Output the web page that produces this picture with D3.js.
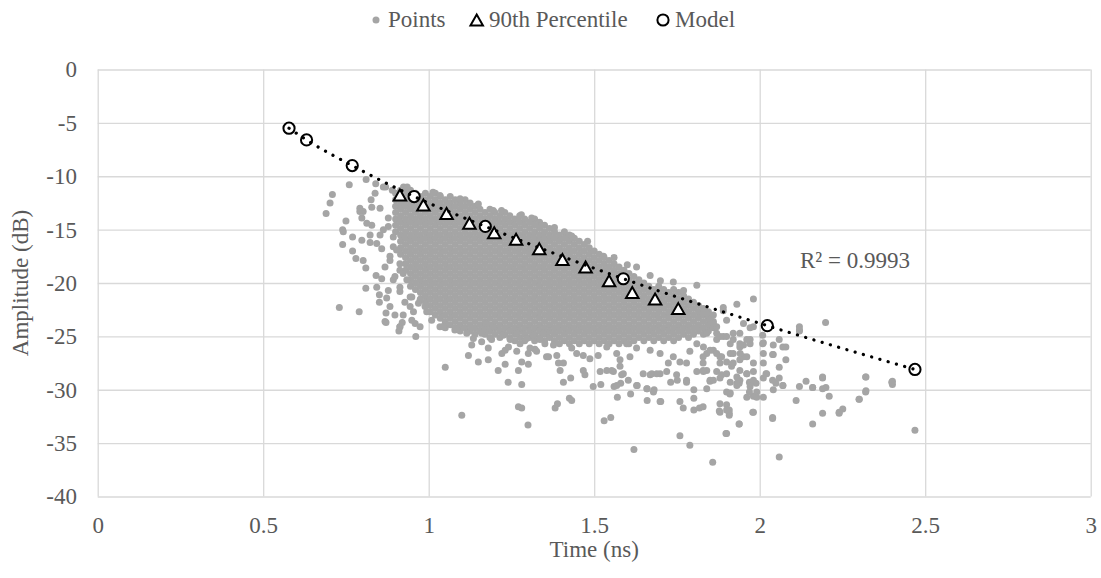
<!DOCTYPE html>
<html>
<head>
<meta charset="utf-8">
<script src="https://cdn.jsdelivr.net/npm/d3@7"></script>
<style>
  body { margin: 0; background: #ffffff; }
</style>
</head>
<body>
<svg id="decay-plot" width="1101" height="578"></svg>
<script>
// ---- data ----
const xTicks = [0, 0.5, 1, 1.5, 2, 2.5, 3];
const yTicks = [0, -5, -10, -15, -20, -25, -30, -35, -40];
const xTitle = "Time (ns)";
const yTitle = "Amplitude (dB)";
const legendLabels = ["Points", "90th Percentile", "Model"];
const rSquaredText = "R² = 0.9993";

// 90th percentile of amplitude per time bin
const percentileTime = [0.913, 0.984, 1.054, 1.123, 1.198, 1.264, 1.334, 1.404, 1.474, 1.545, 1.615, 1.684, 1.754];
const percentileAmp  = [-11.75, -12.7, -13.5, -14.4, -15.3, -15.9, -16.8, -17.8, -18.5, -19.8, -20.9, -21.5, -22.4];

// model evaluated at sample times
const modelTime = [0.578, 0.631, 0.769, 0.956, 1.171, 1.588, 2.023, 2.469];
const modelAmp  = [-5.5, -6.6, -9.0, -11.9, -14.7, -19.6, -24.0, -28.1];

// dense core of measurements: [time, [amplitudes...]]
const coreColumns = [
  [0.900, [-11.6,-12.2,-12.8,-13.4,-14.0,-14.6,-15.2]],
  [0.915, [-11.3,-11.9,-12.5,-13.1,-13.7,-14.3,-14.9,-15.5,-16.1,-16.7,-17.3]],
  [0.930, [-11.6,-12.2,-12.8,-13.4,-14.0,-14.6,-15.2,-15.8,-16.4,-17.0,-17.6,-18.2,-18.8]],
  [0.945, [-11.3,-11.9,-12.5,-13.1,-13.7,-14.3,-14.9,-15.5,-16.1,-16.7,-17.3,-17.9,-18.5,-19.1,-19.7,-20.3]],
  [0.960, [-11.6,-12.2,-12.8,-13.4,-14.0,-14.6,-15.2,-15.8,-16.4,-17.0,-17.6,-18.2,-18.8,-19.4,-20.0,-20.6]],
  [0.975, [-11.9,-12.5,-13.1,-13.7,-14.3,-14.9,-15.5,-16.1,-16.7,-17.3,-17.9,-18.5,-19.1,-19.7,-20.3,-20.9,-21.5]],
  [0.990, [-11.6,-12.2,-12.8,-13.4,-14.0,-14.6,-15.2,-15.8,-16.4,-17.0,-17.6,-18.2,-18.8,-19.4,-20.0,-20.6,-21.2,-21.8]],
  [1.005, [-11.9,-12.5,-13.1,-13.7,-14.3,-14.9,-15.5,-16.1,-16.7,-17.3,-17.9,-18.5,-19.1,-19.7,-20.3,-20.9,-21.5,-22.1,-22.7]],
  [1.020, [-11.6,-12.2,-12.8,-13.4,-14.0,-14.6,-15.2,-15.8,-16.4,-17.0,-17.6,-18.2,-18.8,-19.4,-20.0,-20.6,-21.2,-21.8,-22.4,-23.0]],
  [1.035, [-11.9,-12.5,-13.1,-13.7,-14.3,-14.9,-15.5,-16.1,-16.7,-17.3,-17.9,-18.5,-19.1,-19.7,-20.3,-20.9,-21.5,-22.1,-22.7,-23.3]],
  [1.050, [-12.2,-12.8,-13.4,-14.0,-14.6,-15.2,-15.8,-16.4,-17.0,-17.6,-18.2,-18.8,-19.4,-20.0,-20.6,-21.2,-21.8,-22.4,-23.0,-23.6,-24.2]],
  [1.065, [-11.9,-12.5,-13.1,-13.7,-14.3,-14.9,-15.5,-16.1,-16.7,-17.3,-17.9,-18.5,-19.1,-19.7,-20.3,-20.9,-21.5,-22.1,-22.7,-23.3,-23.9]],
  [1.080, [-12.2,-12.8,-13.4,-14.0,-14.6,-15.2,-15.8,-16.4,-17.0,-17.6,-18.2,-18.8,-19.4,-20.0,-20.6,-21.2,-21.8,-22.4,-23.0,-23.6,-24.2]],
  [1.095, [-12.5,-13.1,-13.7,-14.3,-14.9,-15.5,-16.1,-16.7,-17.3,-17.9,-18.5,-19.1,-19.7,-20.3,-20.9,-21.5,-22.1,-22.7,-23.3,-23.9,-24.5]],
  [1.110, [-12.2,-12.8,-13.4,-14.0,-14.6,-15.2,-15.8,-16.4,-17.0,-17.6,-18.2,-18.8,-19.4,-20.0,-20.6,-21.2,-21.8,-22.4,-23.0,-23.6,-24.2]],
  [1.125, [-12.5,-13.1,-13.7,-14.3,-14.9,-15.5,-16.1,-16.7,-17.3,-17.9,-18.5,-19.1,-19.7,-20.3,-20.9,-21.5,-22.1,-22.7,-23.3,-23.9,-24.5]],
  [1.140, [-12.8,-13.4,-14.0,-14.6,-15.2,-15.8,-16.4,-17.0,-17.6,-18.2,-18.8,-19.4,-20.0,-20.6,-21.2,-21.8,-22.4,-23.0,-23.6,-24.2,-24.8]],
  [1.155, [-13.1,-13.7,-14.3,-14.9,-15.5,-16.1,-16.7,-17.3,-17.9,-18.5,-19.1,-19.7,-20.3,-20.9,-21.5,-22.1,-22.7,-23.3,-23.9,-24.5]],
  [1.170, [-13.4,-14.0,-14.6,-15.2,-15.8,-16.4,-17.0,-17.6,-18.2,-18.8,-19.4,-20.0,-20.6,-21.2,-21.8,-22.4,-23.0,-23.6,-24.2,-24.8]],
  [1.185, [-13.1,-13.7,-14.3,-14.9,-15.5,-16.1,-16.7,-17.3,-17.9,-18.5,-19.1,-19.7,-20.3,-20.9,-21.5,-22.1,-22.7,-23.3,-23.9,-24.5,-25.1]],
  [1.200, [-13.4,-14.0,-14.6,-15.2,-15.8,-16.4,-17.0,-17.6,-18.2,-18.8,-19.4,-20.0,-20.6,-21.2,-21.8,-22.4,-23.0,-23.6,-24.2,-24.8]],
  [1.215, [-13.7,-14.3,-14.9,-15.5,-16.1,-16.7,-17.3,-17.9,-18.5,-19.1,-19.7,-20.3,-20.9,-21.5,-22.1,-22.7,-23.3,-23.9,-24.5,-25.1]],
  [1.230, [-13.4,-14.0,-14.6,-15.2,-15.8,-16.4,-17.0,-17.6,-18.2,-18.8,-19.4,-20.0,-20.6,-21.2,-21.8,-22.4,-23.0,-23.6,-24.2,-24.8]],
  [1.245, [-13.7,-14.3,-14.9,-15.5,-16.1,-16.7,-17.3,-17.9,-18.5,-19.1,-19.7,-20.3,-20.9,-21.5,-22.1,-22.7,-23.3,-23.9,-24.5,-25.1]],
  [1.260, [-14.0,-14.6,-15.2,-15.8,-16.4,-17.0,-17.6,-18.2,-18.8,-19.4,-20.0,-20.6,-21.2,-21.8,-22.4,-23.0,-23.6,-24.2,-24.8,-25.4]],
  [1.275, [-13.7,-14.3,-14.9,-15.5,-16.1,-16.7,-17.3,-17.9,-18.5,-19.1,-19.7,-20.3,-20.9,-21.5,-22.1,-22.7,-23.3,-23.9,-24.5,-25.1]],
  [1.290, [-14.0,-14.6,-15.2,-15.8,-16.4,-17.0,-17.6,-18.2,-18.8,-19.4,-20.0,-20.6,-21.2,-21.8,-22.4,-23.0,-23.6,-24.2,-24.8,-25.4]],
  [1.305, [-14.3,-14.9,-15.5,-16.1,-16.7,-17.3,-17.9,-18.5,-19.1,-19.7,-20.3,-20.9,-21.5,-22.1,-22.7,-23.3,-23.9,-24.5,-25.1]],
  [1.320, [-14.0,-14.6,-15.2,-15.8,-16.4,-17.0,-17.6,-18.2,-18.8,-19.4,-20.0,-20.6,-21.2,-21.8,-22.4,-23.0,-23.6,-24.2,-24.8,-25.4]],
  [1.335, [-14.3,-14.9,-15.5,-16.1,-16.7,-17.3,-17.9,-18.5,-19.1,-19.7,-20.3,-20.9,-21.5,-22.1,-22.7,-23.3,-23.9,-24.5,-25.1]],
  [1.350, [-14.6,-15.2,-15.8,-16.4,-17.0,-17.6,-18.2,-18.8,-19.4,-20.0,-20.6,-21.2,-21.8,-22.4,-23.0,-23.6,-24.2,-24.8,-25.4]],
  [1.365, [-14.9,-15.5,-16.1,-16.7,-17.3,-17.9,-18.5,-19.1,-19.7,-20.3,-20.9,-21.5,-22.1,-22.7,-23.3,-23.9,-24.5,-25.1]],
  [1.380, [-15.2,-15.8,-16.4,-17.0,-17.6,-18.2,-18.8,-19.4,-20.0,-20.6,-21.2,-21.8,-22.4,-23.0,-23.6,-24.2,-24.8,-25.4]],
  [1.395, [-15.5,-16.1,-16.7,-17.3,-17.9,-18.5,-19.1,-19.7,-20.3,-20.9,-21.5,-22.1,-22.7,-23.3,-23.9,-24.5,-25.1,-25.7]],
  [1.410, [-15.2,-15.8,-16.4,-17.0,-17.6,-18.2,-18.8,-19.4,-20.0,-20.6,-21.2,-21.8,-22.4,-23.0,-23.6,-24.2,-24.8,-25.4]],
  [1.425, [-15.5,-16.1,-16.7,-17.3,-17.9,-18.5,-19.1,-19.7,-20.3,-20.9,-21.5,-22.1,-22.7,-23.3,-23.9,-24.5,-25.1,-25.7]],
  [1.440, [-15.8,-16.4,-17.0,-17.6,-18.2,-18.8,-19.4,-20.0,-20.6,-21.2,-21.8,-22.4,-23.0,-23.6,-24.2,-24.8,-25.4]],
  [1.455, [-16.1,-16.7,-17.3,-17.9,-18.5,-19.1,-19.7,-20.3,-20.9,-21.5,-22.1,-22.7,-23.3,-23.9,-24.5,-25.1,-25.7]],
  [1.470, [-16.4,-17.0,-17.6,-18.2,-18.8,-19.4,-20.0,-20.6,-21.2,-21.8,-22.4,-23.0,-23.6,-24.2,-24.8,-25.4]],
  [1.485, [-16.7,-17.3,-17.9,-18.5,-19.1,-19.7,-20.3,-20.9,-21.5,-22.1,-22.7,-23.3,-23.9,-24.5,-25.1,-25.7]],
  [1.500, [-17.0,-17.6,-18.2,-18.8,-19.4,-20.0,-20.6,-21.2,-21.8,-22.4,-23.0,-23.6,-24.2,-24.8,-25.4]],
  [1.515, [-17.3,-17.9,-18.5,-19.1,-19.7,-20.3,-20.9,-21.5,-22.1,-22.7,-23.3,-23.9,-24.5,-25.1,-25.7]],
  [1.530, [-17.6,-18.2,-18.8,-19.4,-20.0,-20.6,-21.2,-21.8,-22.4,-23.0,-23.6,-24.2,-24.8,-25.4]],
  [1.545, [-17.9,-18.5,-19.1,-19.7,-20.3,-20.9,-21.5,-22.1,-22.7,-23.3,-23.9,-24.5,-25.1,-25.7]],
  [1.560, [-18.2,-18.8,-19.4,-20.0,-20.6,-21.2,-21.8,-22.4,-23.0,-23.6,-24.2,-24.8,-25.4]],
  [1.575, [-18.5,-19.1,-19.7,-20.3,-20.9,-21.5,-22.1,-22.7,-23.3,-23.9,-24.5,-25.1,-25.7]],
  [1.590, [-18.8,-19.4,-20.0,-20.6,-21.2,-21.8,-22.4,-23.0,-23.6,-24.2,-24.8,-25.4]],
  [1.605, [-19.1,-19.7,-20.3,-20.9,-21.5,-22.1,-22.7,-23.3,-23.9,-24.5,-25.1,-25.7]],
  [1.620, [-19.4,-20.0,-20.6,-21.2,-21.8,-22.4,-23.0,-23.6,-24.2,-24.8,-25.4]],
  [1.635, [-19.7,-20.3,-20.9,-21.5,-22.1,-22.7,-23.3,-23.9,-24.5,-25.1]],
  [1.650, [-20.0,-20.6,-21.2,-21.8,-22.4,-23.0,-23.6,-24.2,-24.8,-25.4]],
  [1.665, [-20.3,-20.9,-21.5,-22.1,-22.7,-23.3,-23.9,-24.5,-25.1]],
  [1.680, [-20.6,-21.2,-21.8,-22.4,-23.0,-23.6,-24.2,-24.8,-25.4]],
  [1.695, [-20.3,-20.9,-21.5,-22.1,-22.7,-23.3,-23.9,-24.5,-25.1]],
  [1.710, [-20.6,-21.2,-21.8,-22.4,-23.0,-23.6,-24.2,-24.8,-25.4]],
  [1.725, [-20.9,-21.5,-22.1,-22.7,-23.3,-23.9,-24.5,-25.1]],
  [1.740, [-20.6,-21.2,-21.8,-22.4,-23.0,-23.6,-24.2,-24.8,-25.4]],
  [1.755, [-20.9,-21.5,-22.1,-22.7,-23.3,-23.9,-24.5,-25.1]],
  [1.770, [-21.2,-21.8,-22.4,-23.0,-23.6,-24.2,-24.8]],
  [1.785, [-21.5,-22.1,-22.7,-23.3,-23.9,-24.5,-25.1]],
  [1.800, [-21.8,-22.4,-23.0,-23.6,-24.2,-24.8]],
  [1.815, [-22.1,-22.7,-23.3,-23.9,-24.5]],
  [1.830, [-22.4,-23.0,-23.6,-24.2,-24.8]],
  [1.845, [-22.7,-23.3,-23.9,-24.5]],
  [1.860, [-23.0,-23.6,-24.2]]
];

// sparser measurements around the core: [time, amplitude]
const outerPoints = [
  [0.811,-10.3],[0.760,-10.8],[0.709,-11.7],[0.702,-12.5],[0.690,-13.5],[0.750,-14.2],[0.742,-15.2],[0.740,-16.4],
  [0.792,-13.0],[0.740,-15.0],[0.770,-15.7],[0.770,-17.0],[0.780,-17.7],[0.802,-17.9],[0.810,-18.6],[0.810,-20.5],
  [0.730,-22.3],[0.790,-22.7],[0.841,-19.3],[0.851,-21.1],[0.851,-21.8],[0.871,-22.8],[0.871,-23.7],[0.928,-21.8],
  [0.798,-16.0],[0.798,-13.9],[0.802,-13.3],[0.828,-14.6],[0.823,-16.2],[0.853,-15.5],[0.858,-16.8],[0.878,-14.7],
  [0.883,-17.9],[0.828,-12.9],[0.826,-12.2],[0.853,-13.0],[0.863,-11.0],[0.838,-11.6],[0.913,-20.8],[0.949,-21.3],
  [0.944,-22.2],[0.974,-21.6],[0.954,-22.7],[0.923,-23.0],[0.959,-23.8],[0.913,-24.1],[0.873,-21.4],[0.893,-19.7],
  [0.913,-18.8],[0.893,-16.6],
  [0.792,-13.3],[0.813,-14.4],[0.823,-15.5],[0.843,-16.3],[0.863,-15.0],[0.878,-13.9],[0.893,-15.7],[0.903,-16.9],
  [0.883,-17.5],[0.868,-18.5],[0.913,-18.2],[0.923,-19.1],[0.934,-19.7],[0.898,-19.4],[0.858,-19.6],[0.843,-20.4],
  [0.878,-20.7],[0.913,-20.4],[0.944,-21.3],[0.969,-21.9],[0.989,-22.2],[0.994,-22.7],[0.883,-22.2],[0.898,-23.0],
  [0.868,-23.6],[0.913,-24.1],[0.949,-23.5],[0.974,-24.1],[1.009,-23.5],[1.034,-24.1],
  [0.920,-23.7],[0.910,-24.5],[0.961,-25.0],[1.049,-23.9],[1.079,-24.4],[1.050,-27.9],[1.120,-26.8],[1.150,-27.4],
  [1.180,-27.2],[1.180,-26.1],[1.130,-25.8],[1.160,-25.5],[1.190,-25.3],[1.170,-24.7],[1.210,-28.2],[1.231,-27.6],
  [1.240,-29.3],[1.281,-29.5],[1.271,-28.2],[1.281,-27.4],[1.301,-27.6],[1.221,-26.6],[1.231,-26.3],[1.301,-26.6],
  [1.321,-26.2],[1.356,-26.9],[1.100,-32.4],[1.271,-31.6],[1.281,-31.7],[1.300,-33.3],
  [1.044,-24.1],[1.085,-24.3],[1.115,-24.7],[1.135,-25.2],[1.160,-24.7],[1.175,-23.8],[1.195,-24.1],[1.225,-24.9],
  [1.246,-25.3],[1.266,-24.7],[1.276,-25.7],[1.296,-25.2],[1.316,-24.9],[1.336,-25.3],[1.356,-24.7],[1.241,-26.0],
  [1.266,-26.4],[1.306,-26.1],[1.326,-26.4],
  [1.382,-31.7],[1.389,-31.3],[1.425,-30.8],[1.432,-31.0],[1.530,-32.9],[1.550,-32.6],[1.620,-35.6],[1.570,-30.7],
  [1.610,-30.4],[1.660,-31.0],[1.660,-29.9],[1.681,-30.0],[1.701,-31.1],[1.759,-34.3],[1.759,-31.1],[1.769,-31.7],
  [1.789,-35.2],[1.801,-31.9],[1.818,-31.7],[1.801,-30.8],[1.801,-30.0],[1.858,-36.8],[1.840,-29.9],[1.850,-29.2],
  [1.880,-32.1],[1.900,-34.1],[1.900,-31.4],[1.908,-31.9],[1.908,-32.4],[1.938,-33.2],[1.981,-32.1],[1.910,-30.4],
  [1.961,-30.7],[1.981,-30.6],[1.991,-30.2],[2.011,-30.7],[1.969,-30.2],[1.938,-29.4],[1.969,-29.3],[1.989,-29.4],
  [1.630,-29.6],[1.497,-29.7],[1.520,-29.5],[1.560,-29.7],[1.580,-29.4],[1.407,-29.3],[1.472,-28.6],[1.429,-28.9],
  [1.731,-29.3],[1.751,-29.1],[1.779,-29.1],[1.850,-29.1],[1.900,-30.2],[1.940,-29.1],[1.830,-28.3],[1.880,-28.9],
  [1.870,-28.3],[1.669,-28.6],[1.699,-28.5],[1.588,-28.5],[1.558,-28.3],[1.518,-28.3],[1.467,-28.2],
  [1.351,-25.7],[1.346,-24.7],[1.377,-25.8],[1.362,-26.9],[1.387,-26.8],[1.392,-27.5],[1.407,-27.5],[1.397,-28.2],
  [1.432,-26.1],[1.447,-26.6],[1.467,-26.8],[1.487,-27.1],[1.512,-26.8],[1.538,-28.2],[1.553,-28.2],[1.578,-27.8],
  [1.583,-28.6],[1.578,-27.2],[1.603,-29.1],[1.628,-29.6],[1.568,-29.6],[1.659,-29.9],[1.679,-30.2],[1.699,-31.1],
  [1.648,-28.5],[1.674,-28.5],[1.689,-28.5],[1.719,-28.3],[1.724,-27.5],[1.749,-28.6],[1.779,-29.3],[1.759,-27.4],
  [1.779,-27.5],[1.810,-28.3],[1.829,-27.5],[1.840,-26.6],[1.860,-26.3],[1.885,-26.9],[1.900,-27.4],[1.915,-27.8],
  [1.940,-28.2],[1.940,-27.2],[1.961,-28.5],[1.981,-28.3],[1.885,-28.6],[1.911,-29.3],[1.931,-29.4],[1.971,-29.4],
  [1.940,-24.7],[1.951,-25.8],[1.971,-25.3],[1.911,-25.7],[1.890,-25.0],[1.870,-24.7],[1.810,-25.7],[1.789,-26.4],
  [1.739,-26.9],[1.699,-26.6],[1.669,-26.3],[1.628,-26.1],[1.608,-26.9],[1.568,-26.6],[1.538,-26.0],[1.598,-25.7],
  [2.059,-36.3],[2.039,-32.6],[2.160,-33.2],[2.190,-32.2],[2.240,-32.2],[2.251,-31.8],[2.300,-30.9],[2.320,-30.2],
  [2.320,-28.8],[2.401,-29.2],[2.401,-29.5],[2.469,-33.8],[2.210,-30.6],[2.200,-29.8],[2.190,-29.9],[2.190,-28.9],
  [2.160,-29.8],[2.140,-29.2],[2.120,-29.7],[2.110,-31.0],[2.070,-29.6],[2.041,-30.0],[2.049,-29.4],[2.059,-28.9],
  [2.059,-27.9],[2.079,-27.2],[2.041,-26.7],[2.011,-26.6],[2.011,-27.5],[2.019,-28.5],[2.011,-28.9],[2.070,-26.0],
  [2.059,-25.3],[2.041,-25.8],[2.011,-25.6],[2.079,-26.0],[2.120,-24.5],
  [1.981,-21.5],[1.931,-22.0],[1.890,-22.3],[1.890,-22.6],[2.199,-23.7],[2.120,-24.1],[2.120,-24.4],[1.971,-24.2],
  [1.951,-23.8],[2.009,-24.9],[2.009,-25.7],[2.039,-26.7],[2.021,-28.5],[2.039,-29.1],[2.070,-29.6],[2.160,-29.8],
  [2.190,-28.8],[2.240,-32.1],[2.301,-30.9],[2.321,-30.1],[2.321,-28.8],[2.399,-29.3],[2.039,-32.7],[1.938,-33.2],
  [1.898,-34.1],[1.979,-32.1],[1.908,-32.2],[1.878,-32.0],[1.991,-30.7],
  [1.829,-22.8],[1.850,-23.5],[1.870,-24.1],[1.840,-24.7],[1.870,-25.3],[1.900,-25.0],[1.920,-25.3],[1.940,-26.0],
  [1.971,-25.7],[1.911,-26.6],[1.951,-26.9],[1.981,-27.5],[1.880,-27.5],[1.900,-28.5],[1.931,-28.8],[1.961,-28.5],
  [1.981,-29.1],[1.840,-28.2],[1.860,-29.1],[1.931,-29.6],[1.971,-29.7],[1.911,-30.3],[1.880,-26.9],[1.850,-26.3],
  [1.829,-26.9],[1.829,-28.2],[1.941,-26.6],[1.920,-27.5],[1.880,-31.3],[1.900,-31.9],[1.829,-31.6],
  [1.860,-23.8],[1.880,-25.0],[1.920,-24.7],[1.940,-25.7],[1.961,-25.3],[1.830,-26.0],[1.870,-26.6],[1.920,-26.6],
  [1.961,-26.9],[1.981,-24.1],[1.840,-22.8],[1.900,-23.5],
  [1.220,-13.2],[1.311,-13.9],[1.341,-14.6],[1.432,-15.6],[1.628,-18.5],[1.669,-19.3],[1.739,-19.9],[1.810,-20.2],
  [1.528,-17.5],[1.095,-12.1],[1.195,-13.2],[0.924,-11.0],[0.935,-11.0],[1.013,-11.5],[1.034,-11.8],[0.840,-10.7],
  [0.870,-11.0],[0.890,-11.3],[1.150,-12.6],[1.280,-13.6],[1.380,-14.8],[1.480,-16.1],[1.560,-17.6],[1.600,-18.3],
  [1.700,-19.8],[1.770,-20.7]
];

// ---- layout ----
const svg = d3.select("#decay-plot");
const plotLeft = 97.7, plotRight = 1090.7, plotTop = 69.5, plotBottom = 496.5;
const fontSize = 23;
const textFont = '"Liberation Serif"';
const textColor = "#595959";

const x = d3.scaleLinear().domain([0, 3]).range([plotLeft, plotRight]);
const y = d3.scaleLinear().domain([-40, 0]).range([plotBottom, plotTop]);

// serif labels, set both as attribute and as inline style so nothing else overrides them
const textStyle = sel => sel
  .attr("font-family", textFont)
  .attr("font-size", fontSize)
  .attr("fill", textColor)
  .style("font-family", textFont, "important")
  .style("font-size", fontSize + "px", "important");

// gridlines and tick labels
const yAxis = d3.axisLeft(y)
  .tickValues(yTicks)
  .tickSize(-(plotRight - plotLeft))
  .tickPadding(20.7)
  .tickFormat(d => String(d));
const xAxis = d3.axisBottom(x)
  .tickValues(xTicks)
  .tickSize(-(plotBottom - plotTop))
  .tickPadding(20.4)
  .tickFormat(d => String(d));

const gy = svg.append("g").attr("transform", `translate(${plotLeft},0)`).call(yAxis);
const gx = svg.append("g").attr("transform", `translate(0,${plotBottom})`).call(xAxis);
[gx, gy].forEach(g => {
  g.attr("font-family", textFont).attr("font-size", fontSize);
  g.select(".domain").remove();
  g.selectAll(".tick line").attr("stroke", "#d9d9d9").attr("stroke-width", 1.3);
  g.selectAll(".tick text").call(textStyle);
});

// measurement points
const allPoints = coreColumns.flatMap(([t, amps]) => amps.map(a => [t, a])).concat(outerPoints);
svg.append("g")
  .selectAll("circle")
  .data(allPoints)
  .join("circle")
  .attr("cx", d => x(d[0]))
  .attr("cy", d => y(d[1]))
  .attr("r", 3.5)
  .attr("fill", "#a5a5a5");

// triangle marker path centred on its bounding box
const triW = 12.5, triH = 11;
const trianglePath = (cx, cy) =>
  `M${cx},${cy - triH / 2}L${cx + triW / 2},${cy + triH / 2}L${cx - triW / 2},${cy + triH / 2}Z`;

svg.append("g")
  .selectAll("path")
  .data(d3.zip(percentileTime, percentileAmp))
  .join("path")
  .attr("d", d => trianglePath(x(d[0]), y(d[1])))
  .attr("fill", "#ffffff")
  .attr("stroke", "#000000")
  .attr("stroke-width", 2)
  .attr("stroke-linejoin", "miter");

const modelData = d3.zip(modelTime, modelAmp);
svg.append("g")
  .selectAll("circle")
  .data(modelData)
  .join("circle")
  .attr("cx", d => x(d[0]))
  .attr("cy", d => y(d[1]))
  .attr("r", 5.6)
  .attr("fill", "#ffffff")
  .attr("stroke", "#000000")
  .attr("stroke-width", 2);

// dotted trend through the model
const trend = d3.line()
  .x(d => x(d[0]))
  .y(d => y(d[1]))
  .curve(d3.curveMonotoneX);
svg.append("path")
  .datum(modelData)
  .attr("d", trend)
  .attr("fill", "none")
  .attr("stroke", "#000000")
  .attr("stroke-width", 3.2)
  .attr("stroke-linecap", "round")
  .attr("stroke-dasharray", "0.1 8.5");

svg.append("text")
  .attr("x", 800)
  .attr("y", 267.5)
  .call(textStyle)
  .text(rSquaredText);

// axis titles
svg.append("text")
  .attr("x", (plotLeft + plotRight) / 2)
  .attr("y", 557)
  .attr("text-anchor", "middle")
  .call(textStyle)
  .text(xTitle);
svg.append("text")
  .attr("transform", `translate(28,${(plotTop + plotBottom) / 2}) rotate(-90)`)
  .attr("text-anchor", "middle")
  .call(textStyle)
  .text(yTitle);

// legend
const legend = svg.append("g");
const legendY = 20, legendBase = 27;
legend.append("circle").attr("cx", 376).attr("cy", legendY).attr("r", 3.5).attr("fill", "#a5a5a5");
legend.append("text").attr("x", 388).attr("y", legendBase).call(textStyle).text(legendLabels[0]);
legend.append("path").attr("d", trianglePath(476.7, legendY))
  .attr("fill", "#ffffff").attr("stroke", "#000000").attr("stroke-width", 2);
legend.append("text").attr("x", 489).attr("y", legendBase).call(textStyle).text(legendLabels[1]);
legend.append("circle").attr("cx", 663).attr("cy", legendY).attr("r", 5.6)
  .attr("fill", "#ffffff").attr("stroke", "#000000").attr("stroke-width", 2);
legend.append("text").attr("x", 675).attr("y", legendBase).call(textStyle).text(legendLabels[2]);
</script>
</body>
</html>
